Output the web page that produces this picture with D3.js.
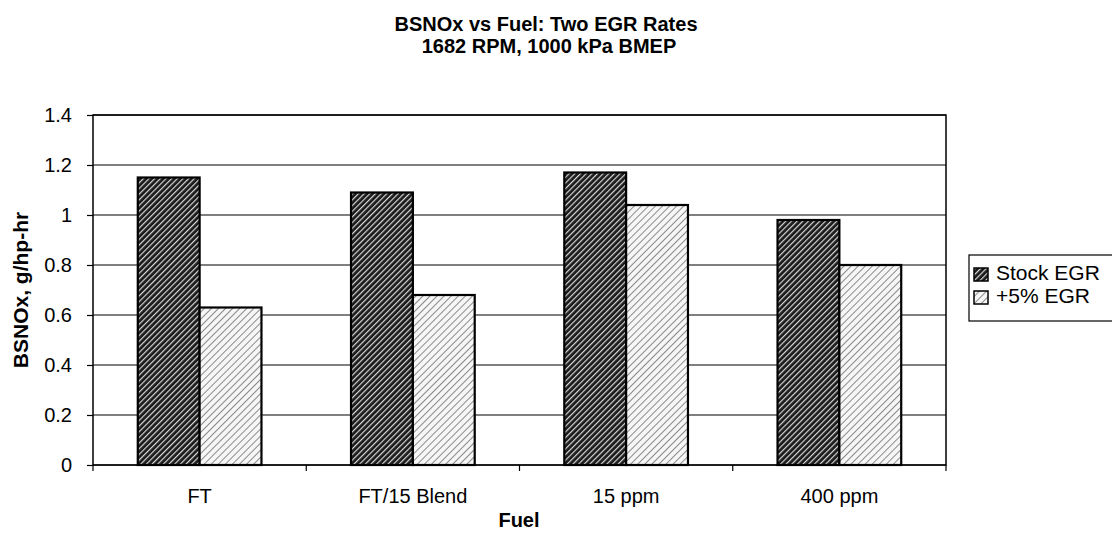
<!DOCTYPE html>
<html>
<head>
<meta charset="utf-8">
<script src="https://cdn.jsdelivr.net/npm/d3@7"></script>
<style>
  body { margin: 0; background: #fff; }
  svg { font-family: Arial, "Liberation Sans", sans-serif; }
</style>
</head>
<body>
<div id="chart"></div>
<script>
'use strict';

// data
var fuels = ['FT', 'FT/15 Blend', '15 ppm', '400 ppm'];
var seriesNames = ['Stock EGR', '+5% EGR'];
var stockEgr = [1.15, 1.09, 1.17, 0.98];
var plusEgr = [0.63, 0.68, 1.04, 0.80];
var yTicks = [0, 0.2, 0.4, 0.6, 0.8, 1, 1.2, 1.4];

var W = 1112, H = 544;
var margin = {top: 115, right: 166, bottom: 79, left: 93};
var width = W - margin.left - margin.right;
var height = H - margin.top - margin.bottom;

var svg = d3.select('#chart').append('svg')
  .attr('width', W).attr('height', H);

// hatch fills
var defs = svg.append('defs');
var dark = defs.append('pattern').attr('id', 'darkHatch')
  .attr('patternUnits', 'userSpaceOnUse').attr('width', 4).attr('height', 4)
  .attr('patternTransform', 'rotate(45)');
dark.append('rect').attr('width', 4).attr('height', 4).attr('fill', '#1a1a1a');
dark.append('rect').attr('x', 0).attr('width', 1.2).attr('height', 4).attr('fill', '#d8d8d8');

var light = defs.append('pattern').attr('id', 'lightHatch')
  .attr('patternUnits', 'userSpaceOnUse').attr('width', 5).attr('height', 5)
  .attr('patternTransform', 'rotate(45)');
light.append('rect').attr('width', 5).attr('height', 5).attr('fill', '#f6f6f6');
light.append('rect').attr('x', 0).attr('width', 1).attr('height', 5).attr('fill', '#8a8a8a');

var fills = ['url(#darkHatch)', 'url(#lightHatch)'];

var g = svg.append('g').attr('transform', 'translate(' + margin.left + ',' + margin.top + ')');

var x = d3.scaleBand().domain(fuels).range([0, width]).padding(0);
var xInner = d3.scaleBand().domain(seriesNames)
  .range([x.bandwidth() * 0.21, x.bandwidth() * 0.79]);
var y = d3.scaleLinear().domain([0, 1.4]).range([height, 0]);

// gridlines
g.selectAll('.grid').data(yTicks).enter().append('line')
  .attr('x1', 0).attr('x2', width)
  .attr('y1', function(d) { return y(d); })
  .attr('y2', function(d) { return y(d); })
  .attr('stroke', '#000').attr('stroke-width', 1.2);

// bars
var rows = fuels.map(function(f, i) { return {fuel: f, vals: [stockEgr[i], plusEgr[i]]}; });
var grp = g.selectAll('.grp').data(rows).enter().append('g')
  .attr('transform', function(d) { return 'translate(' + x(d.fuel) + ',0)'; });
grp.selectAll('rect').data(function(d) { return d.vals; }).enter().append('rect')
  .attr('x', function(d, i) { return xInner(seriesNames[i]); })
  .attr('width', xInner.bandwidth())
  .attr('y', function(d) { return y(d); })
  .attr('height', function(d) { return y(0) - y(d); })
  .attr('fill', function(d, i) { return fills[i]; })
  .attr('stroke', '#000').attr('stroke-width', 2.2);

// plot frame
g.append('rect').attr('width', width).attr('height', height)
  .attr('fill', 'none').attr('stroke', '#000').attr('stroke-width', 1.5);

// y axis
var yAxis = g.append('g').call(d3.axisLeft(y).tickValues(yTicks)
  .tickFormat(function(d) { return d3.format('~g')(d); }).tickSize(6).tickPadding(15));
yAxis.select('.domain').remove();
yAxis.selectAll('line').attr('stroke-width', 1.2);
yAxis.selectAll('text').attr('font-size', 20).attr('fill', '#000')
  .attr('font-family', 'Arial, "Liberation Sans", sans-serif');

// x axis
var xAxis = g.append('g').attr('transform', 'translate(0,' + height + ')')
  .call(d3.axisBottom(x).tickSize(0).tickPadding(24));
xAxis.select('.domain').remove();
xAxis.selectAll('text').attr('font-size', 20).attr('fill', '#000')
  .attr('font-family', 'Arial, "Liberation Sans", sans-serif');
g.selectAll('.xtick').data(d3.range(fuels.length + 1)).enter().append('line')
  .attr('x1', function(i) { return i * x.step(); })
  .attr('x2', function(i) { return i * x.step(); })
  .attr('y1', height).attr('y2', height + 6)
  .attr('stroke', '#000').attr('stroke-width', 1.2);

// titles
svg.append('text').attr('x', 546).attr('y', 31).attr('text-anchor', 'middle')
  .attr('font-size', 20).attr('font-weight', 'bold').text('BSNOx vs Fuel: Two EGR Rates');
svg.append('text').attr('x', 549).attr('y', 53).attr('text-anchor', 'middle')
  .attr('font-size', 20).attr('font-weight', 'bold').text('1682 RPM, 1000 kPa BMEP');
svg.append('text').attr('x', 519).attr('y', 527).attr('text-anchor', 'middle')
  .attr('font-size', 20).attr('font-weight', 'bold').text('Fuel');
svg.append('text').attr('transform', 'translate(28,' + (margin.top + height / 2) + ') rotate(-90)')
  .attr('text-anchor', 'middle').attr('font-size', 21).attr('font-weight', 'bold')
  .text('BSNOx, g/hp-hr');

// legend
var lg = svg.append('g').attr('transform', 'translate(969,255)');
lg.append('rect').attr('width', 170).attr('height', 66)
  .attr('fill', '#fff').attr('stroke', '#000').attr('stroke-width', 1.2);
var item = lg.selectAll('.item').data(seriesNames).enter().append('g')
  .attr('transform', function(d, i) { return 'translate(5,' + (25 + i * 23) + ')'; });
item.append('rect').attr('x', 0).attr('y', -12).attr('width', 14).attr('height', 13)
  .attr('fill', function(d, i) { return fills[i]; })
  .attr('stroke', '#000').attr('stroke-width', 1.5);
item.append('text').attr('x', 22).attr('y', 0).attr('font-size', 21).text(function(d) { return d; });
</script>
</body>
</html>
